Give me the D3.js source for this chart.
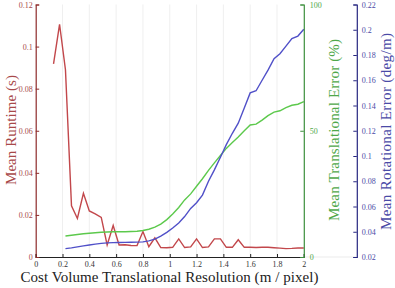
<!DOCTYPE html>
<html>
<head>
<meta charset="utf-8">
<script src="https://cdn.jsdelivr.net/npm/d3@7"></script>
<style>
  body { margin: 0; background: #fff; }
  text { font-family: "Liberation Serif", "DejaVu Serif", serif; }
</style>
</head>
<body>
<script>
// resolution (m / pixel) for every run
var resolution = [0.133, 0.178, 0.222, 0.267, 0.311, 0.356, 0.4, 0.444, 0.489, 0.533,
  0.578, 0.622, 0.667, 0.711, 0.756, 0.8, 0.844, 0.889, 0.933, 0.978,
  1.022, 1.067, 1.111, 1.156, 1.2, 1.244, 1.289, 1.333, 1.378, 1.422,
  1.467, 1.511, 1.556, 1.6, 1.644, 1.689, 1.733, 1.778, 1.822, 1.867,
  1.911, 1.956, 2];
// mean runtime (s), one per resolution
var runtime = [0.0918, 0.1106, 0.089, 0.0243, 0.0183, 0.0303, 0.0219, 0.0205, 0.0188, 0.0057,
  0.0150, 0.0057, 0.0058, 0.0055, 0.0054, 0.0121, 0.0049, 0.0091, 0.0045, 0.0044,
  0.0046, 0.0086, 0.0045, 0.0048, 0.0086, 0.0045, 0.0048, 0.0086, 0.0086, 0.0046,
  0.0046, 0.0082, 0.0046, 0.0046, 0.0045, 0.0046, 0.0046, 0.0044, 0.0042, 0.0040,
  0.0041, 0.0043, 0.0043];
// errors start at the third resolution
var transError = [8.3, 8.6, 8.9, 9.2, 9.4, 9.6, 9.8, 9.9, 10.0, 10.0,
  10.0, 10.1, 10.2, 10.5, 11.0, 11.8, 13.0, 14.8, 17.0, 19.6,
  22.6, 25.0, 28.0, 31.0, 34.3, 37.3, 40.2, 43.0, 45.3, 47.5,
  50.0, 52.3, 52.6, 54.2, 56.0, 57.4, 57.9, 59.2, 60.1, 60.5, 61.5];
var rotError = [0.0266, 0.0272, 0.0280, 0.0288, 0.0295, 0.0302, 0.0308, 0.0312, 0.0314, 0.0315,
  0.0316, 0.0317, 0.0318, 0.0320, 0.0328, 0.0342, 0.0365, 0.0395, 0.0430, 0.0470,
  0.0520, 0.0585, 0.0630, 0.0690, 0.0800, 0.0890, 0.0990, 0.1090, 0.1180, 0.1260,
  0.1380, 0.1500, 0.1517, 0.1600, 0.1680, 0.1770, 0.1810, 0.1870, 0.1930, 0.1950, 0.2004];

var xTicks = [0, 0.2, 0.4, 0.6, 0.8, 1, 1.2, 1.4, 1.6, 1.8, 2];
var runtimeTicks = [0, 0.02, 0.04, 0.06, 0.08, 0.1, 0.12];
var transTicks = [0, 50, 100];
var rotTicks = [0.02, 0.04, 0.06, 0.08, 0.1, 0.12, 0.14, 0.16, 0.18, 0.2, 0.22];

var W = 395, H = 288;
var plotLeft = 35.7, plotRight = 303.8, plotTop = 4.5, plotBottom = 257;
var rotAxisX = 356.8;

var red = "#c2474b", redDark = "#8e2b2b", redText = "#a84a4a";
var green = "#5cc94c", greenDark = "#3d8f3d", greenText = "#4fa84a";
var blue = "#5050c8", blueDark = "#262680", blueText = "#4a4aa6";

var svg = d3.select("body").append("svg")
  .attr("width", W).attr("height", H)
  .style("background", "#fff");

var x = d3.scaleLinear().domain([0, 2]).range([plotLeft, plotRight]);
var yRun = d3.scaleLinear().domain([0, 0.12]).range([plotBottom, plotTop]);
var yTrans = d3.scaleLinear().domain([0, 100]).range([plotBottom, plotTop]);
var yRot = d3.scaleLinear().domain([0.02, 0.22]).range([plotBottom, plotTop]);

var fmt = function(d) { return String(+d.toFixed(3)); };
function minors(a, b, step) {
  return d3.range(Math.round((b - a) / step) + 1).map(function(i) { return +(a + i * step).toFixed(4); });
}

// vertical grid
svg.append("g").selectAll("line")
  .data(xTicks.slice(1, -1))
  .enter().append("line")
  .attr("x1", function(d) { return x(d); }).attr("x2", function(d) { return x(d); })
  .attr("y1", plotTop).attr("y2", plotBottom)
  .attr("stroke", "#ebebeb").attr("stroke-width", 0.8);

// faint base line under the right axes
svg.append("line")
  .attr("x1", x(2)).attr("x2", rotAxisX).attr("y1", plotBottom).attr("y2", plotBottom)
  .attr("stroke", "#e6e6e6").attr("stroke-width", 0.8);

// lines
var line = function(ys, xs, yScale) {
  return d3.line().x(function(d, i) { return x(xs[i]); }).y(function(d) { return yScale(d); })(ys);
};
var xErr = resolution.slice(2);

svg.append("path").attr("d", line(runtime, resolution, yRun))
  .attr("fill", "none").attr("stroke", red).attr("stroke-width", 1.4);
svg.append("path").attr("d", line(transError, xErr, yTrans))
  .attr("fill", "none").attr("stroke", green).attr("stroke-width", 1.4);
svg.append("path").attr("d", line(rotError, xErr, yRot))
  .attr("fill", "none").attr("stroke", blue).attr("stroke-width", 1.4);

function styleAxis(g, color, textColor) {
  g.selectAll("path.domain").attr("stroke", color).attr("stroke-width", 1.2);
  g.selectAll(".tick line").attr("stroke", color).attr("stroke-width", 1);
  g.selectAll(".tick text").attr("fill", textColor).style("font-size", "8px")
    .style("font-family", '"Liberation Serif", serif');
}

// bottom axis
var gx = svg.append("g").attr("transform", "translate(0," + plotBottom + ")");
gx.call(d3.axisBottom(x).tickValues(minors(0, 2, 0.05)).tickSize(-2).tickFormat(""));
gx.call(d3.axisBottom(x).tickValues(xTicks).tickSize(-3).tickPadding(4).tickFormat(fmt));
styleAxis(gx, "#222", "#333");

// left axis
var gl = svg.append("g").attr("transform", "translate(" + plotLeft + ",0)");
gl.call(d3.axisLeft(yRun).tickValues(minors(0, 0.12, 0.005)).tickSize(-2).tickFormat(""));
gl.call(d3.axisLeft(yRun).tickValues(runtimeTicks).tickSize(-3.5).tickPadding(3).tickFormat(fmt));
styleAxis(gl, redDark, redText);

// green axis
var gg = svg.append("g").attr("transform", "translate(" + x(2) + ",0)");
gg.call(d3.axisRight(yTrans).tickValues(minors(0, 100, 10)).tickSize(-2).tickFormat(""));
gg.call(d3.axisRight(yTrans).tickValues(transTicks).tickSize(-3.5).tickPadding(6).tickFormat(fmt));
styleAxis(gg, greenDark, greenText);

// blue axis
var gb = svg.append("g").attr("transform", "translate(" + rotAxisX + ",0)");
gb.call(d3.axisRight(yRot).tickValues(minors(0.02, 0.22, 0.005)).tickSize(-2).tickFormat(""));
gb.call(d3.axisRight(yRot).tickValues(rotTicks).tickSize(-3.5).tickPadding(5).tickFormat(fmt));
styleAxis(gb, blueDark, blueText);

// titles
svg.append("text").attr("x", 169.5).attr("y", 281.5)
  .attr("text-anchor", "middle").attr("fill", "#222").style("font-size", "15px")
  .attr("textLength", 298)
  .text("Cost Volume Translational Resolution (m / pixel)");

svg.append("text").attr("transform", "translate(16,130) rotate(-90)")
  .attr("text-anchor", "middle").attr("fill", redText).style("font-size", "15px")
  .attr("textLength", 110)
  .text("Mean Runtime (s)");

svg.append("text").attr("transform", "translate(339,130) rotate(-90)")
  .attr("text-anchor", "middle").attr("fill", greenText).style("font-size", "15px")
  .attr("textLength", 182)
  .text("Mean Translational Error (%)");

svg.append("text").attr("transform", "translate(391,131.5) rotate(-90)")
  .attr("text-anchor", "middle").attr("fill", blueText).style("font-size", "15px")
  .attr("textLength", 197)
  .text("Mean Rotational Error (deg/m)");
</script>
</body>
</html>
